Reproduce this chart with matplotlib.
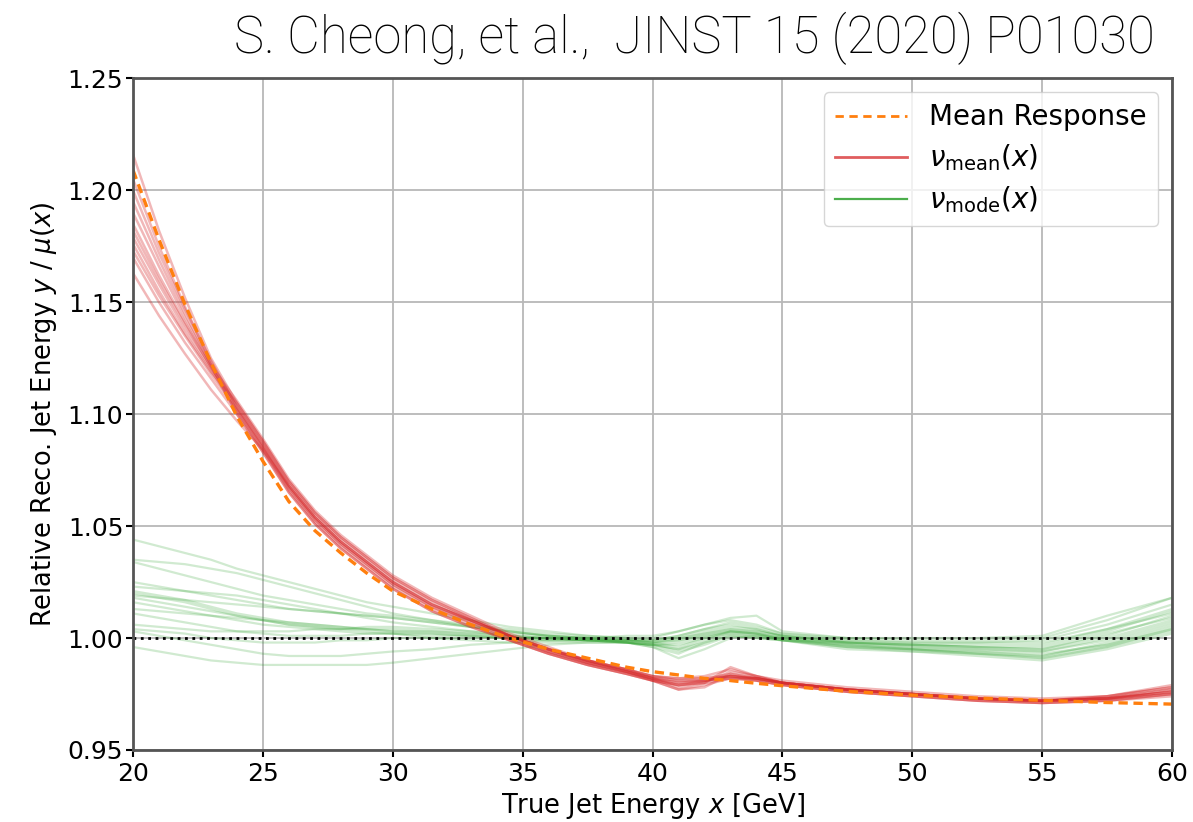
import matplotlib
matplotlib.use("Agg")
import matplotlib.pyplot as plt
from matplotlib.lines import Line2D

# sample points along true jet energy (GeV)
energy = [20, 21, 22, 23, 24, 25, 26, 27, 28, 29, 30, 31.5, 33, 34.5, 36, 37.5, 39, 40, 41, 42, 43, 44, 45,
          47.5, 50, 52.5, 55, 57.5, 60]

# mean response (orange dashed)
mean_response = [1.209, 1.178, 1.149, 1.123, 1.099, 1.079, 1.061, 1.048, 1.038, 1.029, 1.021, 1.013, 1.006,
                 1.000, 0.995, 0.991, 0.987, 0.985, 0.9835, 0.982, 0.981, 0.9798, 0.9787,
                 0.9762, 0.9745, 0.9732, 0.9722, 0.9712, 0.9705]

# nu_mean(x) curves (red)
nu_mean = [
    [1.216, 1.182, 1.152, 1.125, 1.105, 1.088, 1.070, 1.056, 1.045, 1.036, 1.027, 1.017, 1.009, 1.001, 0.995, 0.990,
     0.986, 0.983, 0.981, 0.982, 0.984, 0.982, 0.980, 0.977, 0.975, 0.973, 0.972, 0.974, 0.979],
    [1.200, 1.172, 1.147, 1.124, 1.103, 1.086, 1.068, 1.054, 1.043, 1.034, 1.025, 1.015, 1.008, 1.001, 0.994, 0.989,
     0.985, 0.982, 0.979, 0.980, 0.985, 0.983, 0.980, 0.977, 0.975, 0.973, 0.972, 0.973, 0.977],
    [1.195, 1.169, 1.145, 1.122, 1.100, 1.083, 1.065, 1.051, 1.040, 1.031, 1.022, 1.012, 1.005, 0.999, 0.993, 0.988,
     0.984, 0.981, 0.977, 0.979, 0.982, 0.981, 0.979, 0.976, 0.974, 0.972, 0.971, 0.972, 0.975],
    [1.190, 1.166, 1.143, 1.122, 1.106, 1.089, 1.071, 1.057, 1.046, 1.037, 1.028, 1.018, 1.010, 1.002, 0.996, 0.990,
     0.986, 0.983, 0.982, 0.983, 0.986, 0.983, 0.981, 0.978, 0.976, 0.974, 0.973, 0.974, 0.978],
    [1.185, 1.162, 1.141, 1.121, 1.102, 1.085, 1.067, 1.053, 1.042, 1.033, 1.024, 1.014, 1.007, 1.000, 0.994, 0.989,
     0.985, 0.981, 0.977, 0.978, 0.984, 0.982, 0.980, 0.977, 0.975, 0.973, 0.972, 0.973, 0.976],
    [1.182, 1.160, 1.140, 1.121, 1.104, 1.087, 1.069, 1.055, 1.044, 1.035, 1.026, 1.016, 1.008, 1.001, 0.995, 0.990,
     0.985, 0.982, 0.981, 0.981, 0.982, 0.982, 0.980, 0.977, 0.975, 0.973, 0.972, 0.973, 0.975],
    [1.179, 1.158, 1.138, 1.120, 1.101, 1.084, 1.066, 1.052, 1.041, 1.032, 1.023, 1.013, 1.006, 0.999, 0.993, 0.988,
     0.984, 0.981, 0.979, 0.981, 0.983, 0.981, 0.979, 0.976, 0.974, 0.972, 0.971, 0.972, 0.974],
    [1.176, 1.155, 1.136, 1.119, 1.105, 1.088, 1.070, 1.056, 1.045, 1.036, 1.027, 1.017, 1.009, 1.001, 0.995, 0.990,
     0.986, 0.983, 0.982, 0.982, 0.983, 0.982, 0.980, 0.977, 0.975, 0.973, 0.972, 0.974, 0.978],
    [1.173, 1.153, 1.135, 1.118, 1.102, 1.085, 1.067, 1.053, 1.042, 1.033, 1.024, 1.014, 1.007, 1.000, 0.994, 0.989,
     0.985, 0.982, 0.978, 0.980, 0.987, 0.983, 0.980, 0.977, 0.975, 0.973, 0.972, 0.973, 0.977],
    [1.170, 1.150, 1.132, 1.116, 1.100, 1.083, 1.065, 1.051, 1.040, 1.031, 1.022, 1.012, 1.005, 0.999, 0.993, 0.988,
     0.984, 0.981, 0.979, 0.980, 0.982, 0.981, 0.979, 0.976, 0.974, 0.972, 0.971, 0.972, 0.975],
    [1.163, 1.144, 1.127, 1.111, 1.097, 1.084, 1.068, 1.054, 1.043, 1.034, 1.025, 1.015, 1.008, 1.001, 0.995, 0.990,
     0.986, 0.982, 0.980, 0.981, 0.983, 0.982, 0.980, 0.977, 0.975, 0.973, 0.972, 0.973, 0.976],
    [1.205, 1.175, 1.148, 1.123, 1.103, 1.086, 1.068, 1.054, 1.043, 1.034, 1.025, 1.015, 1.008, 1.001, 0.995, 0.989,
     0.985, 0.982, 0.980, 0.981, 0.983, 0.982, 0.980, 0.977, 0.975, 0.973, 0.972, 0.973, 0.976],
]

# nu_mode(x) curves (green)
nu_mode = [
    [1.044, 1.041, 1.038, 1.035, 1.031, 1.028, 1.025, 1.022, 1.019, 1.016, 1.014, 1.011, 1.008, 1.005, 1.003, 1.001,
     1.000, 0.999, 1.001, 1.004, 1.007, 1.005, 1.002, 1.000, 0.999, 0.999, 1.000, 1.008, 1.018],
    [1.035, 1.034, 1.033, 1.031, 1.029, 1.026, 1.023, 1.020, 1.017, 1.014, 1.011, 1.008, 1.005, 1.003, 1.001, 1.000,
     0.999, 0.998, 0.999, 1.002, 1.004, 1.003, 1.001, 0.998, 0.997, 0.996, 0.995, 1.001, 1.010],
    [1.034, 1.031, 1.028, 1.025, 1.022, 1.019, 1.017, 1.015, 1.013, 1.011, 1.010, 1.008, 1.006, 1.004, 1.002, 1.001,
     1.000, 1.000, 1.003, 1.006, 1.009, 1.010, 1.003, 1.000, 1.000, 1.000, 1.001, 1.010, 1.018],
    [1.025, 1.023, 1.021, 1.019, 1.017, 1.015, 1.013, 1.012, 1.011, 1.010, 1.009, 1.007, 1.005, 1.003, 1.001, 1.000,
     0.998, 0.996, 0.993, 0.998, 1.002, 1.001, 1.000, 0.997, 0.995, 0.993, 0.991, 0.996, 1.004],
    [1.023, 1.022, 1.021, 1.020, 1.019, 1.017, 1.015, 1.013, 1.011, 1.009, 1.007, 1.005, 1.003, 1.001, 1.000, 0.999,
     0.999, 0.998, 1.000, 1.003, 1.005, 1.004, 1.001, 0.998, 0.997, 0.996, 0.996, 1.003, 1.012],
    [1.021, 1.019, 1.017, 1.014, 1.011, 1.009, 1.007, 1.006, 1.005, 1.004, 1.004, 1.003, 1.002, 1.001, 1.000, 0.999,
     0.998, 0.997, 0.995, 0.999, 1.003, 1.002, 1.000, 0.996, 0.995, 0.994, 0.992, 0.997, 1.005],
    [1.020, 1.018, 1.016, 1.013, 1.010, 1.008, 1.006, 1.005, 1.004, 1.004, 1.003, 1.003, 1.002, 1.001, 1.000, 1.000,
     1.001, 1.001, 1.003, 1.006, 1.008, 1.006, 1.002, 0.999, 0.998, 0.998, 0.999, 1.006, 1.015],
    [1.019, 1.018, 1.017, 1.016, 1.015, 1.014, 1.013, 1.012, 1.011, 1.010, 1.009, 1.007, 1.005, 1.003, 1.001, 1.000,
     0.999, 0.998, 0.999, 1.001, 1.003, 1.002, 1.000, 0.997, 0.996, 0.995, 0.994, 0.999, 1.007],
    [1.016, 1.014, 1.012, 1.010, 1.008, 1.006, 1.005, 1.004, 1.003, 1.002, 1.002, 1.001, 1.001, 1.000, 1.000, 0.999,
     0.998, 0.996, 0.991, 0.995, 1.000, 1.001, 0.999, 0.996, 0.994, 0.993, 0.992, 0.998, 1.006],
    [1.013, 1.012, 1.011, 1.010, 1.009, 1.008, 1.007, 1.006, 1.005, 1.004, 1.003, 1.002, 1.001, 1.000, 1.000, 0.999,
     0.999, 0.999, 1.001, 1.004, 1.006, 1.004, 1.001, 0.998, 0.997, 0.997, 0.997, 1.004, 1.013],
    [1.011, 1.009, 1.007, 1.005, 1.003, 1.002, 1.001, 1.001, 1.001, 1.002, 1.002, 1.002, 1.001, 1.000, 0.999, 0.999,
     0.998, 0.997, 0.997, 1.000, 1.002, 1.001, 0.999, 0.995, 0.994, 0.992, 0.990, 0.995, 1.002],
    [1.006, 1.005, 1.004, 1.003, 1.003, 1.003, 1.003, 1.004, 1.004, 1.005, 1.005, 1.004, 1.003, 1.002, 1.001, 1.000,
     0.999, 0.999, 1.000, 1.002, 1.004, 1.003, 1.001, 0.999, 0.998, 0.998, 0.998, 1.004, 1.011],
    [1.004, 1.003, 1.002, 1.000, 0.999, 0.998, 0.998, 0.998, 0.999, 0.999, 1.000, 1.000, 1.000, 1.000, 0.999, 0.999,
     0.998, 0.997, 0.994, 0.997, 1.001, 1.000, 0.999, 0.996, 0.995, 0.993, 0.991, 0.996, 1.003],
    [1.003, 1.001, 0.999, 0.997, 0.995, 0.993, 0.992, 0.992, 0.992, 0.993, 0.994, 0.995, 0.997, 0.998, 0.999, 0.999,
     0.999, 0.998, 0.996, 1.000, 1.003, 1.002, 0.999, 0.998, 0.996, 0.995, 0.994, 1.000, 1.008],
    [0.996, 0.994, 0.992, 0.990, 0.989, 0.988, 0.988, 0.988, 0.988, 0.988, 0.989, 0.991, 0.993, 0.995, 0.997, 0.998,
     0.998, 0.997, 0.995, 0.998, 1.001, 1.000, 0.999, 0.997, 0.995, 0.994, 0.993, 0.997, 1.004],
    [1.018, 1.016, 1.014, 1.012, 1.010, 1.008, 1.006, 1.005, 1.004, 1.003, 1.002, 1.000, 0.999, 0.998, 0.998, 0.998,
     0.998, 0.997, 0.998, 1.001, 1.003, 1.002, 1.000, 0.998, 0.997, 0.996, 0.995, 1.002, 1.009],
]

x_ticks = [20, 25, 30, 35, 40, 45, 50, 55, 60]
y_ticks = [0.95, 1.00, 1.05, 1.10, 1.15, 1.20, 1.25]

fig = plt.figure(figsize=(11.93, 8.22), dpi=100)
ax = fig.add_axes([0.1115, 0.0876, 0.871, 0.817])

for curve in nu_mode:
    ax.plot(energy, curve, color='#2ca02c', alpha=0.22, lw=1.6)
for curve in nu_mean:
    ax.plot(energy, curve, color='#d62728', alpha=0.33, lw=1.8)
ax.plot(energy, mean_response, color='#ff7f0e', ls='--', lw=2.4, dashes=(2.8, 1.7))
ax.axhline(1.0, color='black', ls=':', lw=2)

ax.set_xlim(20, 60)
ax.set_ylim(0.95, 1.25)
ax.set_xticks(x_ticks)
ax.set_yticks(y_ticks)
ax.set_yticklabels([f'{v:.2f}' for v in y_ticks])
ax.tick_params(labelsize=18, width=1.5, length=5)
ax.tick_params(axis='x', pad=4)
ax.tick_params(axis='y', pad=2)
ax.grid(True, color='#b8b8b8', lw=1.3)
for sp in ax.spines.values():
    sp.set_color('#555555')
    sp.set_linewidth(2)

ax.set_xlabel('True Jet Energy $x$ [GeV]', fontsize=18.5, labelpad=3)
ax.set_ylabel('Relative Reco. Jet Energy $y$ / $\\mu(x)$', fontsize=18.5, labelpad=6)

handles = [
    Line2D([], [], color='#ff7f0e', ls='--', lw=2, dashes=(3, 2)),
    Line2D([], [], color='#d62728', alpha=0.75, lw=2),
    Line2D([], [], color='#2ca02c', alpha=0.85, lw=1.6),
]
labels = ['Mean Response', r'$\nu_{\rm mean}(x)$', r'$\nu_{\rm mode}(x)$']
ax.legend(handles, labels, loc='upper right', fontsize=20, framealpha=0.8,
          handlelength=2.6, borderpad=0.4, labelspacing=0.4)

fig.text(0.968, 0.935, 'S. Cheong, et al.,  JINST 15 (2020) P01030', ha='right', va='baseline',
         fontsize=36.5, family='Roboto', fontweight='light')

fig.savefig('out.png', dpi=100)
